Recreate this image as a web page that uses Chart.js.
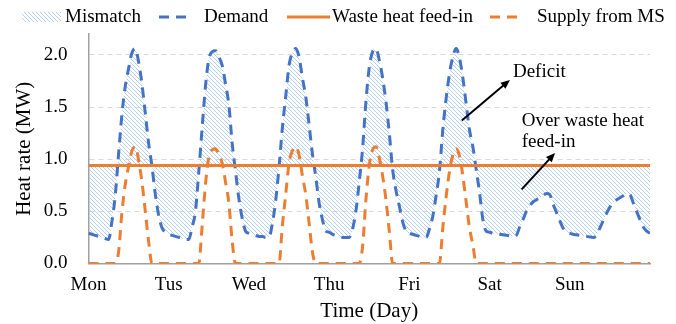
<!DOCTYPE html>
<html>
<head>
<meta charset="utf-8">
<script src="https://cdn.jsdelivr.net/npm/chart.js@4.4.0/dist/chart.umd.min.js"></script>
<style>
  body { margin: 0; background: #fff; }
  #wrap { width: 676px; height: 324px; position: relative; }
</style>
</head>
<body>
<div id="wrap"><canvas id="heatChart"></canvas></div>
<script>
// hourly heat demand (MW), one array per day, hour 0..23
const monDemand = [0.29, 0.28, 0.27, 0.26, 0.25, 0.24, 0.23, 0.40, 0.65, 1.05, 1.43, 1.70, 1.87, 2.02, 2.06, 1.93, 1.72, 1.44, 1.15, 0.93, 0.66, 0.46, 0.34, 0.30];
const tueDemand = [0.28, 0.27, 0.26, 0.25, 0.24, 0.23, 0.23, 0.35, 0.50, 0.88, 1.30, 1.70, 1.96, 2.03, 2.04, 1.98, 1.90, 1.72, 1.52, 1.15, 0.88, 0.62, 0.43, 0.31];
const wedDemand = [0.29, 0.28, 0.27, 0.26, 0.26, 0.25, 0.25, 0.38, 0.60, 0.92, 1.30, 1.60, 1.90, 2.02, 2.06, 1.98, 1.78, 1.60, 1.33, 1.05, 0.83, 0.58, 0.42, 0.31];
const thuDemand = [0.30, 0.28, 0.27, 0.26, 0.25, 0.25, 0.25, 0.33, 0.50, 0.78, 1.10, 1.55, 1.88, 2.03, 2.06, 1.95, 1.78, 1.55, 1.25, 0.90, 0.70, 0.55, 0.40, 0.31];
const friDemand = [0.29, 0.28, 0.27, 0.26, 0.25, 0.25, 0.33, 0.45, 0.65, 0.88, 1.28, 1.58, 1.82, 1.98, 2.06, 1.97, 1.78, 1.53, 1.28, 1.12, 0.90, 0.68, 0.42, 0.31];
const satDemand = [0.30, 0.29, 0.285, 0.28, 0.275, 0.27, 0.265, 0.26, 0.27, 0.35, 0.42, 0.50, 0.55, 0.59, 0.61, 0.63, 0.65, 0.67, 0.66, 0.57, 0.49, 0.41, 0.34, 0.30];
const sunDemand = [0.29, 0.28, 0.275, 0.27, 0.265, 0.26, 0.255, 0.25, 0.27, 0.34, 0.41, 0.48, 0.54, 0.58, 0.61, 0.63, 0.65, 0.67, 0.66, 0.58, 0.50, 0.42, 0.35, 0.31];
const endDemand = 0.29; // hour 168

// supply from MS (MW)
const monSupply = [0, 0, 0, 0, 0, 0, 0, 0, 0, 0.11, 0.49, 0.76, 0.93, 1.08, 1.12, 0.99, 0.78, 0.50, 0.21, 0, 0, 0, 0, 0];
const tueSupply = [0, 0, 0, 0, 0, 0, 0, 0, 0, 0, 0.36, 0.76, 1.02, 1.09, 1.10, 1.04, 0.96, 0.78, 0.58, 0.21, 0, 0, 0, 0];
const wedSupply = [0, 0, 0, 0, 0, 0, 0, 0, 0, 0, 0.36, 0.66, 0.96, 1.08, 1.12, 1.04, 0.84, 0.66, 0.39, 0.11, 0, 0, 0, 0];
const thuSupply = [0, 0, 0, 0, 0, 0, 0, 0, 0, 0, 0.16, 0.61, 0.94, 1.09, 1.12, 1.01, 0.84, 0.61, 0.31, 0, 0, 0, 0, 0];
const friSupply = [0, 0, 0, 0, 0, 0, 0, 0, 0, 0, 0.34, 0.64, 0.88, 1.04, 1.10, 1.03, 0.84, 0.59, 0.34, 0.18, 0, 0, 0, 0];
const satSupply = [0, 0, 0, 0, 0, 0, 0, 0, 0, 0, 0, 0, 0, 0, 0, 0, 0, 0, 0, 0, 0, 0, 0, 0];
const sunSupply = [0, 0, 0, 0, 0, 0, 0, 0, 0, 0, 0, 0, 0, 0, 0, 0, 0, 0, 0, 0, 0, 0, 0, 0];
const endSupply = 0;

// waste heat feed-in (MW), flat over the week
const wasteHours = [0, 168];
const wasteValues = [0.94, 0.94];

const dayLabels = ['Mon', 'Tus', 'Wed', 'Thu', 'Fri', 'Sat', 'Sun'];
const dayStartHours = [0, 24, 48, 72, 96, 120, 144];
const yTicks = [0, 0.5, 1.0, 1.5, 2.0];

const demand = [...monDemand, ...tueDemand, ...wedDemand, ...thuDemand, ...friDemand, ...satDemand, ...sunDemand, endDemand];
const supply = [...monSupply, ...tueSupply, ...wedSupply, ...thuSupply, ...friSupply, ...satSupply, ...sunSupply, endSupply];
const toXY = arr => arr.map((v, h) => ({ x: h, y: v }));

const BLUE = '#4472c4';
const ORANGE = '#ed7d31';
const FONT = '"Liberation Serif", "Times New Roman", serif';

const canvas = document.getElementById('heatChart');
const ctx = canvas.getContext('2d');

// light blue diagonal hatch for the mismatch area
function makeHatch() {
  const c = document.createElement('canvas');
  c.width = 4; c.height = 4;
  const g = c.getContext('2d');
  g.strokeStyle = '#b3cfeb';
  g.lineWidth = 1;
  g.beginPath();
  g.moveTo(-1, -1); g.lineTo(5, 5);
  g.moveTo(-1, 3); g.lineTo(1, 5);
  g.moveTo(3, -1); g.lineTo(5, 1);
  g.stroke();
  return ctx.createPattern(c, 'repeat');
}
const hatch = makeHatch();

// legend drawn by hand (to match the original spacing)
const legendPlugin = {
  id: 'legendRow',
  afterDraw(chart) {
    const c = chart.ctx;
    const y = 17;
    c.save();
    c.font = '19px ' + FONT;
    c.fillStyle = '#000';
    c.textBaseline = 'middle';
    // Mismatch
    c.fillStyle = hatch;
    c.fillRect(22, 12, 39, 10);
    c.fillStyle = '#000';
    c.fillText('Mismatch', 65, y);
    // Demand
    c.lineWidth = 3;
    c.strokeStyle = BLUE;
    c.setLineDash([10, 7]);
    c.beginPath(); c.moveTo(159, y); c.lineTo(193, y); c.stroke();
    c.fillText('Demand', 204, y);
    // Waste heat
    c.setLineDash([]);
    c.strokeStyle = ORANGE;
    c.beginPath(); c.moveTo(287, y); c.lineTo(330, y); c.stroke();
    c.fillText('Waste heat feed-in', 332, y);
    // Supply
    c.setLineDash([10, 7]);
    c.beginPath(); c.moveTo(490, y); c.lineTo(524, y); c.stroke();
    c.fillText('Supply from MS', 537, y);
    c.restore();
  }
};

// text + arrows inside the plot
function arrow(c, x1, y1, x2, y2) {
  const a = Math.atan2(y2 - y1, x2 - x1);
  const hl = 10;
  c.beginPath();
  c.moveTo(x1, y1);
  c.lineTo(x2 - Math.cos(a) * 6, y2 - Math.sin(a) * 6);
  c.stroke();
  c.beginPath();
  c.moveTo(x2, y2);
  c.lineTo(x2 - hl * Math.cos(a - 0.4), y2 - hl * Math.sin(a - 0.4));
  c.lineTo(x2 - hl * Math.cos(a + 0.4), y2 - hl * Math.sin(a + 0.4));
  c.closePath();
  c.fill();
}
const notesPlugin = {
  id: 'notes',
  afterDatasetsDraw(chart) {
    const c = chart.ctx;
    const x = chart.scales.x, y = chart.scales.y;
    c.save();
    c.font = '19px ' + FONT;
    c.fillStyle = '#000';
    c.strokeStyle = '#000';
    c.lineWidth = 2;
    c.textBaseline = 'middle';
    c.fillText('Deficit', x.getPixelForValue(127), y.getPixelForValue(1.84));
    c.fillText('Over waste heat', x.getPixelForValue(129.6), y.getPixelForValue(1.37));
    c.fillText('feed-in', x.getPixelForValue(129.6), y.getPixelForValue(1.16));
    arrow(c, x.getPixelForValue(111.7), y.getPixelForValue(1.37), x.getPixelForValue(126.1), y.getPixelForValue(1.76));
    arrow(c, x.getPixelForValue(129.6), y.getPixelForValue(0.71), x.getPixelForValue(139.6), y.getPixelForValue(1.06));
    c.restore();
  }
};

Chart.defaults.color = '#000';
Chart.defaults.font.family = FONT;

new Chart(ctx, {
  type: 'line',
  data: {
    datasets: [
      {
        label: 'Supply from MS',
        data: toXY(supply),
        borderColor: ORANGE,
        borderWidth: 3,
        borderDash: [10, 7],
        pointRadius: 0,
        cubicInterpolationMode: 'monotone',
        fill: false,
        order: 1
      },
      {
        label: 'Waste heat feed-in',
        data: wasteHours.map((h, i) => ({ x: h, y: wasteValues[i] })),
        borderColor: ORANGE,
        borderWidth: 3,
        pointRadius: 0,
        fill: false,
        order: 2
      },
      {
        label: 'Demand',
        data: toXY(demand),
        borderColor: BLUE,
        borderWidth: 3,
        borderDash: [10, 7],
        pointRadius: 0,
        cubicInterpolationMode: 'monotone',
        fill: { target: 1, above: hatch, below: hatch },
        order: 3
      }
    ]
  },
  options: {
    responsive: true,
    maintainAspectRatio: false,
    animation: false,
    layout: { padding: { top: 34, right: 26, left: 0, bottom: 0 } },
    plugins: {
      legend: { display: false },
      tooltip: { enabled: false }
    },
    scales: {
      x: {
        type: 'linear',
        min: 0,
        max: 168,
        afterBuildTicks: s => { s.ticks = dayStartHours.map(v => ({ value: v })); },
        afterFit: s => { s.height = 60.5; },
        ticks: {
          autoSkip: false,
          maxRotation: 0,
          padding: 10,
          font: { size: 19 },
          callback: v => dayLabels[dayStartHours.indexOf(v)]
        },
        grid: { display: false, drawTicks: false },
        border: { color: '#a0a0a0', width: 1.5 },
        title: { display: true, text: 'Time (Day)', font: { size: 21 }, padding: { top: 0, bottom: 0 } }
      },
      y: {
        min: 0,
        max: 2.2,
        afterBuildTicks: s => { s.ticks = yTicks.map(v => ({ value: v })); },
        afterFit: s => { s.width = 88.5; },
        ticks: {
          padding: 21,
          font: { size: 19 },
          callback: v => v.toFixed(1)
        },
        grid: { color: '#d9d9d9', lineWidth: 1, drawTicks: false },
        border: { color: '#a0a0a0', width: 1.5, dash: [5, 4] },
        title: { display: true, text: 'Heat rate (MW)', font: { size: 21 }, padding: { top: 12, bottom: 0 } }
      }
    }
  },
  plugins: [legendPlugin, notesPlugin]
});
</script>
</body>
</html>
